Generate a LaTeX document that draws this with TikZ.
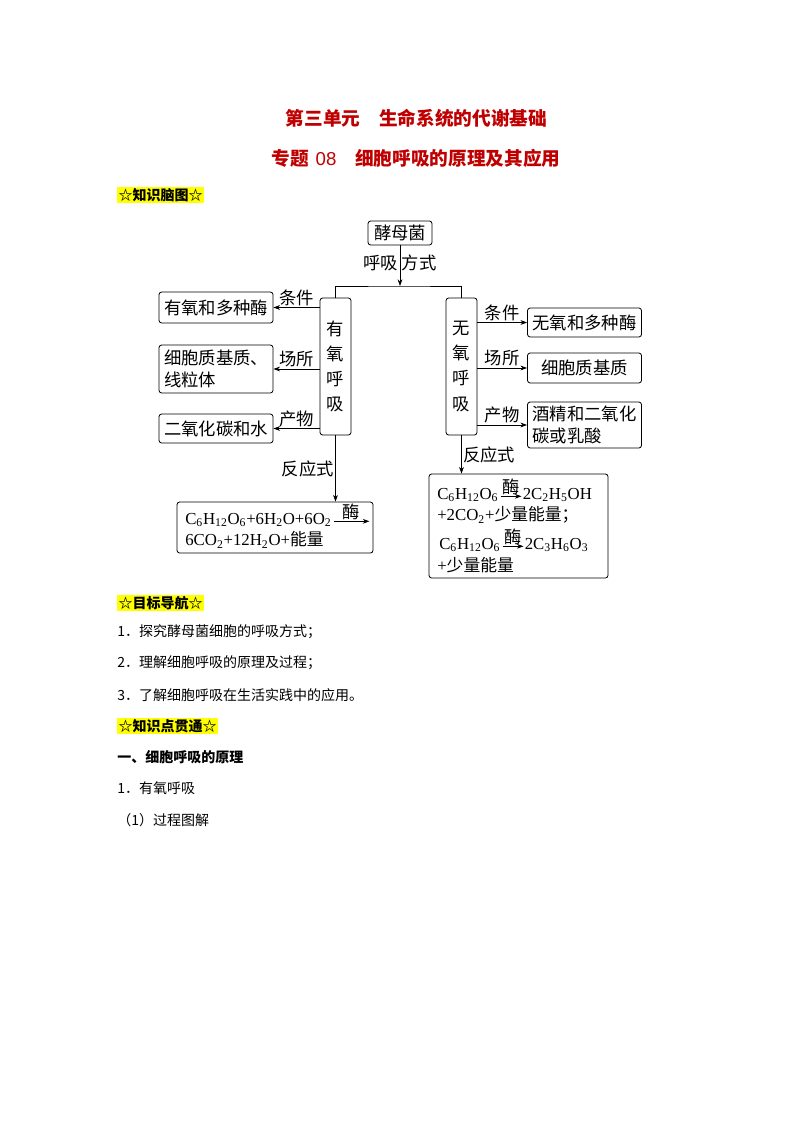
\documentclass[tikz,border=0pt]{standalone}
\usepackage{fontspec}
\setmainfont{Liberation Serif}
\newfontfamily\cjk{Noto Sans CJK SC}
\newfontfamily\arialfont{Liberation Sans}
\usetikzlibrary{arrows.meta, positioning, calc}
\definecolor{ctitle}{RGB}{192,0,0}
\definecolor{cmark}{RGB}{255,255,0}
\newcommand{\chsub}[1]{\textsubscript{#1}}

\begin{document}
\begin{tikzpicture}[x=0.75pt, y=-0.75pt,
    box/.style={draw, rounded corners=2pt, line width=0.6pt, inner sep=2pt, font=\cjk\fontsize{13}{17}\selectfont},
    vbox/.style={box, minimum width=23.25pt, minimum height=102.75pt, align=center, font=\cjk\fontsize{13}{18.75}\selectfont},
    sbox/.style={box, minimum width=85.5pt},
    lab/.style={inner sep=1pt, font=\cjk\fontsize{13}{15}\selectfont},
    eq/.style={inner sep=0pt, anchor=west, font=\fontsize{12.6}{14}\selectfont},
    arr/.style={line width=0.6pt, -{Stealth[length=5pt,width=3.6pt]}},
    wire/.style={line width=0.6pt},
    title/.style={text=ctitle, font=\cjk\bfseries\fontsize{14}{16}\selectfont},
    head/.style={anchor=west, inner sep=1pt, fill=cmark, font=\cjk\bfseries\fontsize{10.5}{12}\selectfont},
    txt/.style={inner sep=0pt, anchor=west, font=\cjk\fontsize{10.5}{12}\selectfont}
]
\useasboundingbox[fill=white] (0,0) rectangle (794,1123);

\node[title] (t1) at (416.5,118) {第三单元　生命系统的代谢基础};
\node[title] (t2) at (416,158) {专题\hspace{5pt}{\arialfont\mdseries 08}　细胞呼吸的原理及其应用};
\node[head] (h1) at (117,195) {☆知识脑图☆};

\node[box, minimum width=48pt, minimum height=18pt] (yeast) at (400,233) {酵母菌};
\coordinate (fork) at (400,286);
\node[vbox] (aero) at (335.5,366.5) {有\\氧\\呼\\吸};
\node[vbox] (anae) at (461.5,366.5) {无\\氧\\呼\\吸};
\draw[arr] (yeast) -- (fork) node[pos=0.43, left, lab] {呼吸} node[pos=0.43, right, lab] {方式};
\draw[wire] (aero.north) |- (fork) -| (anae.north);

\node[sbox, minimum height=23.25pt] (ac) at (216,307.5) {有氧和多种酶};
\node[sbox, minimum height=36pt, align=left] (al) at (216,369) {细胞质基质、\\线粒体};
\node[sbox, minimum height=21.75pt] (ap) at (216,428.5) {二氧化碳和水};
\draw[arr] (ac.east -| aero.west) -- (ac.east) node[midway, above, lab] {条件};
\draw[arr] (al.east -| aero.west) -- (al.east) node[midway, above, lab] {场所};
\draw[arr] (ap.east -| aero.west) -- (ap.east) node[midway, above, lab] {产物};

\node[sbox, minimum height=21.75pt] (nc) at (584.5,322.5) {无氧和多种酶};
\node[sbox, minimum height=22.5pt] (nl) at (584.5,368) {细胞质基质};
\node[sbox, minimum height=34.5pt, align=left] (np) at (584.5,425) {酒精和二氧化\\碳或乳酸};
\draw[arr] (nc.west -| anae.east) -- (nc.west) node[midway, above, lab] {条件};
\draw[arr] (nl.west -| anae.east) -- (nl.west) node[midway, above, lab] {场所};
\draw[arr] (np.west -| anae.east) -- (np.west) node[midway, above, lab] {产物};

\node[box, minimum width=147pt, minimum height=38.25pt] (aeq) at (275,527.5) {};
\node[eq] (aeq1) at (185,520) {C\chsub{6}H\chsub{12}O\chsub{6}+6H\chsub{2}O+6O\chsub{2}};
\node[eq] (aeq2) at (185,540) {6CO\chsub{2}+12H\chsub{2}O+{\cjk 能量}};
\draw[arr] ($(aeq1.base east)+(2,-3)$) -- ($(aeq1.base east -| aeq.east)+(-4,-3)$) node[midway, above, lab, inner sep=0.5pt] {酶};
\draw[arr] (aero.south) -- (aero.south |- aeq.north) node[midway, left, lab] {反应式};

\node[box, minimum width=134.25pt, minimum height=78pt] (neq) at (518.5,526) {};
\node[eq] (neq1) at (437,495) {C\chsub{6}H\chsub{12}O\chsub{6}};
\node[eq, base right=18pt of neq1] (neq1r) {2C\chsub{2}H\chsub{5}OH};
\node[eq] (neq2) at (437,515) {+2CO\chsub{2}+{\cjk 少量能量；}};
\node[eq] (neq3) at (439,545) {C\chsub{6}H\chsub{12}O\chsub{6}};
\node[eq, base right=18pt of neq3] (neq3r) {2C\chsub{3}H\chsub{6}O\chsub{3}};
\node[eq] (neq4) at (437,565) {+{\cjk 少量能量}};
\draw[arr] ($(neq1.base east)+(2,-3)$) -- ($(neq1r.base west)+(-1,-3)$) node[midway, above, lab, inner sep=0.5pt] {酶};
\draw[arr] ($(neq3.base east)+(2,-3)$) -- ($(neq3r.base west)+(-1,-3)$) node[midway, above, lab, inner sep=0.5pt] {酶};
\draw[arr] (anae.south) -- (anae.south |- neq.north) node[midway, right, lab] {反应式};

\node[head] (h2) at (117,603) {☆目标导航☆};
\node[txt] (g1) at (117,632) {1．探究酵母菌细胞的呼吸方式；};
\node[txt] (g2) at (117,663) {2．理解细胞呼吸的原理及过程；};
\node[txt] (g3) at (117,695) {3．了解细胞呼吸在生活实践中的应用。};
\node[head] (h3) at (117,726) {☆知识点贯通☆};
\node[txt, font=\cjk\bfseries\fontsize{10.5}{12}\selectfont] (p1) at (117,757) {一、细胞呼吸的原理};
\node[txt] (p2) at (117,788) {1．有氧呼吸};
\node[txt] (p3) at (117,820) {（1）过程图解};
\end{tikzpicture}
\end{document}
